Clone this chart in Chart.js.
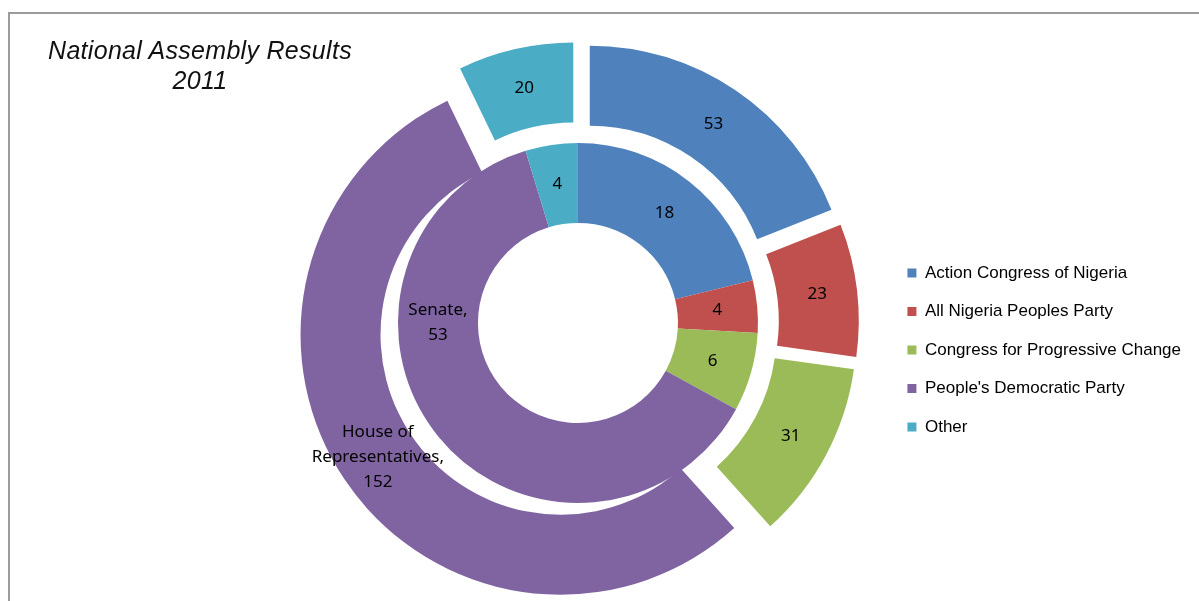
<!DOCTYPE html>
<html>
<head>
<meta charset="utf-8">
<script src="https://cdn.jsdelivr.net/npm/chart.js@4"></script>
<style>
  html, body { margin: 0; padding: 0; background: #fff; }
  #wrap { position: relative; width: 1199px; height: 601px; overflow: hidden; }
  #frame { position: absolute; left: 8px; top: 12px; right: -10px; bottom: -10px;
           border-left: 2px solid #9c9c9c; border-top: 2px solid #9c9c9c; }
  canvas { position: absolute; left: 0; top: 0; }
  #title { position: absolute; left: 30px; top: 35px; width: 340px; text-align: center;
           font: italic 25px/30px "Liberation Sans", Arial, sans-serif; letter-spacing: 0.3px; color: #111; }
</style>
</head>
<body>
<div id="wrap">
  <div id="frame"></div>
  <canvas id="chart" width="1199" height="601"></canvas>
  <div id="title">National Assembly Results<br>2011</div>
</div>
<script>
const parties = ["Action Congress of Nigeria", "All Nigeria Peoples Party", "Congress for Progressive Change", "People's Democratic Party", "Other"];
const houseSeats = [53, 23, 31, 152, 20];
const senateSeats = [18, 4, 6, 53, 4];
const partyColors = ["#4F81BD", "#C0504D", "#9BBB59", "#8064A2", "#4BACC6"];

// draw exploded rings ourselves: shift each arc along its middle angle
// (chart.js "offset" also grows the radius, excel doesn't)
const explodeRing = {
    id: "explodeRing",
    beforeDatasetDraw(chart, args) {
        const dist = chart.data.datasets[args.index].explode;
        if (!dist) return;
        const ctx = chart.ctx;
        args.meta.data.forEach(arc => {
            const mid = (arc.startAngle + arc.endAngle) / 2;
            ctx.save();
            ctx.translate(Math.cos(mid) * dist, Math.sin(mid) * dist);
            arc.draw(ctx, chart.chartArea);
            ctx.restore();
        });
        return false;
    }
};

// value labels, biggest slice also gets the series name
const sliceLabels = {
    id: "sliceLabels",
    afterDatasetsDraw(chart) {
        const ctx = chart.ctx;
        ctx.save();
        ctx.font = '17px "Noto Sans"';
        ctx.fillStyle = "#000";
        ctx.textAlign = "center";
        ctx.textBaseline = "middle";
        chart.data.datasets.forEach((ds, di) => {
            const meta = chart.getDatasetMeta(di);
            const big = ds.data.indexOf(Math.max(...ds.data));
            meta.data.forEach((arc, i) => {
                let angle = (arc.startAngle + arc.endAngle) / 2;
                const lines = [String(ds.data[i])];
                if (i === big) {
                    lines.unshift(...ds.nameLines);
                    if (ds.nameAngle !== undefined) angle = ds.nameAngle;
                }
                const r = (arc.innerRadius + arc.outerRadius) / 2 + (ds.explode || 0);
                const x = arc.x + Math.cos(angle) * r;
                const y = arc.y + Math.sin(angle) * r;
                lines.forEach((t, k) => ctx.fillText(t, x, y + (k - (lines.length - 1) / 2) * 25));
            });
        });
        ctx.restore();
    }
};

new Chart(document.getElementById("chart"), {
    type: "doughnut",
    data: {
        labels: parties,
        datasets: [
            {
                label: "House of Representatives",
                data: houseSeats,
                backgroundColor: partyColors,
                borderWidth: 0,
                explode: 21,
                nameLines: ["House of", "Representatives,"]
            },
            {
                label: "Senate",
                data: senateSeats,
                backgroundColor: partyColors,
                borderWidth: 0,
                nameLines: ["Senate,"],
                nameAngle: Math.PI
            }
        ]
    },
    options: {
        responsive: false,
        animation: false,
        events: [],
        radius: 260,
        cutout: (100 / 260 * 100) + "%",
        layout: { padding: { left: 270, right: 8, top: 60, bottom: 15 } },
        plugins: {
            tooltip: { enabled: false },
            legend: {
                position: "right",
                align: "center",
                // empty title only pushes the rows down a bit
                title: { display: true, text: "", padding: { top: 0, bottom: 39.6 } },
                labels: {
                    boxWidth: 9,
                    boxHeight: 9,
                    padding: 21.5,
                    color: "#000",
                    font: { family: "Liberation Sans", size: 17 }
                }
            }
        }
    },
    plugins: [explodeRing, sliceLabels]
});
</script>
</body>
</html>
